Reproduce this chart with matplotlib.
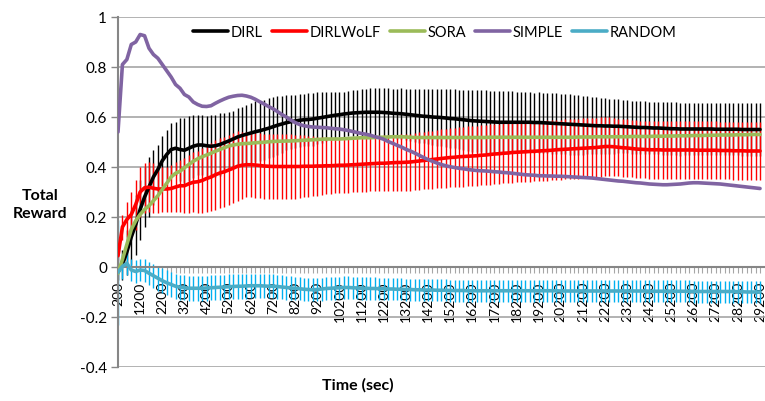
import matplotlib
matplotlib.use("Agg")
import matplotlib.pyplot as plt

plt.rcParams['font.family'] = ['Lato', 'DejaVu Sans']

# categories: time in seconds
times = list(range(200, 29400, 200))

dirl = [-0.02, 0.01, 0.06, 0.12, 0.17, 0.23, 0.28, 0.32, 0.36, 0.39,
        0.425, 0.45, 0.47, 0.475, 0.47, 0.467, 0.475, 0.483, 0.488, 0.488,
        0.485, 0.483, 0.485, 0.49, 0.497, 0.504, 0.512, 0.52, 0.526, 0.531,
        0.536, 0.541, 0.545, 0.55, 0.555, 0.561, 0.567, 0.572, 0.577, 0.581,
        0.584, 0.587, 0.589, 0.59, 0.592, 0.595, 0.598, 0.601, 0.604, 0.607,
        0.609, 0.612, 0.614, 0.616, 0.617, 0.618, 0.619, 0.619, 0.619, 0.619,
        0.618, 0.617, 0.615, 0.614, 0.613, 0.611, 0.609, 0.607, 0.605, 0.603,
        0.602, 0.600, 0.599, 0.598, 0.596, 0.594, 0.593, 0.591, 0.589, 0.587,
        0.585, 0.584, 0.583, 0.582, 0.581, 0.580, 0.579, 0.579, 0.579, 0.579,
        0.579, 0.579, 0.579, 0.579, 0.578, 0.578, 0.577, 0.576, 0.575, 0.574,
        0.573, 0.572, 0.571, 0.570, 0.569, 0.568, 0.567, 0.566, 0.565, 0.565,
        0.564, 0.564, 0.563, 0.563, 0.562, 0.561, 0.560, 0.559, 0.558, 0.558,
        0.557, 0.556, 0.556, 0.555, 0.554, 0.553, 0.553, 0.552, 0.552, 0.552,
        0.552, 0.552, 0.552, 0.552, 0.552, 0.551, 0.551, 0.551, 0.551, 0.551,
        0.551, 0.550, 0.550, 0.550, 0.550, 0.550]
dirl_err = [0.03, 0.06, 0.09, 0.11, 0.12, 0.12, 0.12, 0.12, 0.11, 0.10,
            0.10, 0.10, 0.105, 0.105, 0.125, 0.13, 0.13, 0.125, 0.12, 0.12,
            0.12, 0.125, 0.125, 0.125, 0.12, 0.115, 0.113, 0.115, 0.115, 0.117,
            0.12, 0.122, 0.12, 0.12, 0.12, 0.12, 0.117, 0.114, 0.11, 0.107,
            0.106, 0.105, 0.105, 0.106, 0.106, 0.104, 0.101, 0.098, 0.095, 0.092,
            0.09, 0.09, 0.091, 0.092, 0.093, 0.094, 0.095, 0.096, 0.096, 0.097,
            0.097, 0.098, 0.099, 0.10, 0.102, 0.103, 0.105, 0.106, 0.107, 0.108,
            0.109, 0.111, 0.113, 0.114, 0.115, 0.117, 0.118, 0.119, 0.12, 0.122,
            0.124, 0.124, 0.124, 0.125, 0.125, 0.126, 0.126, 0.125, 0.125, 0.124,
            0.123, 0.122, 0.121, 0.12, 0.12, 0.121, 0.121, 0.121, 0.121, 0.121,
            0.121, 0.121, 0.121, 0.12, 0.119, 0.118, 0.116, 0.115, 0.114, 0.112,
            0.111, 0.11, 0.109, 0.108, 0.107, 0.106, 0.106, 0.106, 0.106, 0.105,
            0.105, 0.105, 0.105, 0.106, 0.106, 0.106, 0.106, 0.106, 0.105, 0.105,
            0.105, 0.105, 0.104, 0.104, 0.104, 0.104, 0.104, 0.104, 0.104, 0.104,
            0.104, 0.105, 0.105, 0.105, 0.105, 0.105]

dirlwolf = [0.045, 0.16, 0.19, 0.21, 0.25, 0.30, 0.317, 0.319, 0.315, 0.312,
            0.312, 0.312, 0.314, 0.32, 0.325, 0.325, 0.333, 0.339, 0.341, 0.346,
            0.354, 0.36, 0.369, 0.376, 0.381, 0.388, 0.395, 0.403, 0.407, 0.409,
            0.409, 0.408, 0.406, 0.404, 0.403, 0.402, 0.402, 0.402, 0.402, 0.402,
            0.402, 0.402, 0.403, 0.403, 0.403, 0.404, 0.404, 0.405, 0.405, 0.406,
            0.407, 0.407, 0.408, 0.409, 0.410, 0.411, 0.412, 0.413, 0.414, 0.415,
            0.415, 0.416, 0.417, 0.418, 0.418, 0.419, 0.420, 0.422, 0.424, 0.426,
            0.428, 0.430, 0.432, 0.434, 0.436, 0.438, 0.439, 0.441, 0.442, 0.443,
            0.444, 0.445, 0.447, 0.448, 0.450, 0.452, 0.453, 0.455, 0.456, 0.458,
            0.459, 0.460, 0.461, 0.462, 0.463, 0.464, 0.465, 0.466, 0.467, 0.469,
            0.470, 0.471, 0.472, 0.473, 0.474, 0.475, 0.476, 0.477, 0.478, 0.480,
            0.482, 0.482, 0.481, 0.479, 0.477, 0.476, 0.474, 0.472, 0.471, 0.470,
            0.469, 0.469, 0.469, 0.468, 0.468, 0.468, 0.468, 0.468, 0.468, 0.468,
            0.468, 0.467, 0.467, 0.467, 0.467, 0.467, 0.466, 0.466, 0.466, 0.465,
            0.465, 0.465, 0.464, 0.464, 0.464, 0.464]
dirlwolf_err = [0.02, 0.05, 0.07, 0.09, 0.10, 0.10, 0.10, 0.10, 0.10, 0.095,
                0.09, 0.09, 0.095, 0.10, 0.105, 0.11, 0.115, 0.12, 0.125, 0.13,
                0.135, 0.135, 0.14, 0.14, 0.14, 0.14, 0.14, 0.14, 0.135, 0.13,
                0.13, 0.13, 0.13, 0.13, 0.13, 0.13, 0.13, 0.13, 0.13, 0.13,
                0.128, 0.126, 0.124, 0.122, 0.12, 0.118, 0.116, 0.114, 0.112, 0.11,
                0.11, 0.11, 0.11, 0.11, 0.11, 0.11, 0.11, 0.11, 0.11, 0.11,
                0.112, 0.112, 0.112, 0.112, 0.113, 0.113, 0.114, 0.114, 0.115, 0.115,
                0.116, 0.116, 0.117, 0.117, 0.118, 0.118, 0.119, 0.119, 0.12, 0.12,
                0.12, 0.12, 0.12, 0.12, 0.12, 0.12, 0.12, 0.12, 0.12, 0.12,
                0.12, 0.12, 0.12, 0.12, 0.12, 0.12, 0.12, 0.12, 0.12, 0.12,
                0.12, 0.12, 0.12, 0.12, 0.12, 0.12, 0.12, 0.12, 0.12, 0.12,
                0.118, 0.117, 0.116, 0.115, 0.115, 0.115, 0.115, 0.115, 0.115, 0.115,
                0.115, 0.115, 0.115, 0.115, 0.115, 0.115, 0.115, 0.115, 0.115, 0.115,
                0.115, 0.115, 0.115, 0.115, 0.115, 0.115, 0.115, 0.115, 0.115, 0.115,
                0.115, 0.115, 0.115, 0.115, 0.115, 0.115]

sora = [-0.025, 0.03, 0.09, 0.15, 0.185, 0.21, 0.23, 0.245, 0.265, 0.285,
        0.31, 0.335, 0.36, 0.375, 0.383, 0.397, 0.41, 0.423, 0.433, 0.441,
        0.448, 0.455, 0.463, 0.47, 0.477, 0.484, 0.488, 0.491, 0.493, 0.494,
        0.495, 0.497, 0.498, 0.499, 0.501, 0.502, 0.503, 0.503, 0.504, 0.504,
        0.505, 0.506, 0.507, 0.508, 0.509, 0.510, 0.511, 0.512, 0.512, 0.512,
        0.512, 0.513, 0.514, 0.515, 0.516, 0.517, 0.517, 0.517, 0.518, 0.519,
        0.519, 0.520, 0.521, 0.521, 0.521, 0.520, 0.519, 0.518, 0.518, 0.518,
        0.518, 0.518, 0.518, 0.518, 0.518, 0.518, 0.518, 0.518, 0.518, 0.518,
        0.518, 0.518, 0.518, 0.518, 0.519, 0.519, 0.519, 0.519, 0.519, 0.519,
        0.519, 0.519, 0.519, 0.519, 0.519, 0.519, 0.519, 0.519, 0.519, 0.519,
        0.519, 0.519, 0.519, 0.519, 0.520, 0.520, 0.520, 0.520, 0.521, 0.521,
        0.521, 0.521, 0.521, 0.521, 0.521, 0.521, 0.522, 0.522, 0.522, 0.522,
        0.522, 0.523, 0.523, 0.523, 0.524, 0.524, 0.524, 0.525, 0.525, 0.525,
        0.526, 0.526, 0.526, 0.527, 0.527, 0.527, 0.528, 0.528, 0.528, 0.528,
        0.529, 0.529, 0.529, 0.530, 0.530, 0.530]

simple = [0.54, 0.81, 0.83, 0.89, 0.90, 0.93, 0.925, 0.875, 0.85, 0.835,
          0.81, 0.785, 0.76, 0.73, 0.715, 0.69, 0.68, 0.66, 0.65, 0.643,
          0.642, 0.645, 0.655, 0.664, 0.672, 0.679, 0.683, 0.686, 0.687, 0.684,
          0.679, 0.671, 0.661, 0.652, 0.642, 0.633, 0.622, 0.610, 0.600, 0.588,
          0.578, 0.570, 0.565, 0.562, 0.560, 0.559, 0.558, 0.557, 0.555, 0.553,
          0.552, 0.549, 0.546, 0.542, 0.538, 0.534, 0.531, 0.527, 0.521, 0.517,
          0.511, 0.502, 0.495, 0.487, 0.480, 0.471, 0.464, 0.456, 0.447, 0.438,
          0.430, 0.423, 0.416, 0.410, 0.405, 0.401, 0.398, 0.395, 0.393, 0.390,
          0.388, 0.386, 0.385, 0.384, 0.383, 0.381, 0.380, 0.378, 0.377, 0.375,
          0.373, 0.371, 0.369, 0.368, 0.367, 0.365, 0.365, 0.364, 0.364, 0.363,
          0.363, 0.362, 0.361, 0.360, 0.359, 0.358, 0.357, 0.356, 0.354, 0.352,
          0.350, 0.348, 0.346, 0.344, 0.343, 0.341, 0.339, 0.337, 0.336, 0.334,
          0.332, 0.331, 0.330, 0.329, 0.329, 0.330, 0.331, 0.332, 0.334, 0.336,
          0.337, 0.337, 0.336, 0.335, 0.334, 0.333, 0.332, 0.330, 0.328, 0.326,
          0.324, 0.322, 0.320, 0.318, 0.316, 0.314]

random_ = [-0.021, 0.002, 0.015, -0.012, -0.018, -0.012, -0.014, -0.025, -0.035, -0.045,
           -0.055, -0.063, -0.070, -0.077, -0.081, -0.083, -0.085, -0.085, -0.085, -0.085,
           -0.084, -0.083, -0.082, -0.081, -0.080, -0.079, -0.078, -0.077, -0.077, -0.076,
           -0.075, -0.075, -0.075, -0.076, -0.077, -0.077, -0.078, -0.080, -0.082, -0.084,
           -0.085, -0.087, -0.089, -0.090, -0.091, -0.090, -0.088, -0.086, -0.085, -0.084,
           -0.083, -0.082, -0.082, -0.083, -0.084, -0.085, -0.085, -0.086, -0.086, -0.087,
           -0.087, -0.088, -0.088, -0.089, -0.089, -0.090, -0.090, -0.091, -0.091, -0.092,
           -0.092, -0.092, -0.093, -0.093, -0.093, -0.094, -0.094, -0.094, -0.094, -0.095,
           -0.095, -0.095, -0.095, -0.095, -0.095, -0.095, -0.095, -0.095, -0.095, -0.095,
           -0.095, -0.095, -0.095, -0.095, -0.095, -0.095, -0.095, -0.095, -0.095, -0.095,
           -0.096, -0.096, -0.096, -0.096, -0.096, -0.096, -0.096, -0.096, -0.096, -0.096,
           -0.096, -0.096, -0.096, -0.096, -0.096, -0.096, -0.096, -0.096, -0.096, -0.096,
           -0.097, -0.097, -0.097, -0.097, -0.097, -0.097, -0.097, -0.097, -0.097, -0.097,
           -0.098, -0.098, -0.098, -0.098, -0.098, -0.098, -0.098, -0.098, -0.098, -0.098,
           -0.099, -0.099, -0.100, -0.100, -0.100, -0.100]
random_err = [0.21, 0.05, 0.045, 0.045, 0.045, 0.045, 0.045, 0.045, 0.048, 0.05,
              0.05, 0.05, 0.05, 0.05, 0.05, 0.05, 0.05, 0.05, 0.05, 0.05,
              0.05, 0.05, 0.05, 0.05, 0.05, 0.05, 0.05, 0.05, 0.05, 0.05,
              0.048, 0.048, 0.048, 0.048, 0.048, 0.048, 0.048, 0.048, 0.048, 0.048,
              0.046, 0.046, 0.046, 0.046, 0.046, 0.046, 0.046, 0.046, 0.046, 0.046,
              0.045, 0.045, 0.045, 0.045, 0.045, 0.045, 0.045, 0.045, 0.045, 0.045,
              0.044, 0.044, 0.044, 0.044, 0.044, 0.044, 0.044, 0.044, 0.044, 0.044,
              0.044, 0.044, 0.044, 0.044, 0.044, 0.044, 0.044, 0.044, 0.044, 0.044,
              0.044, 0.044, 0.044, 0.044, 0.044, 0.044, 0.044, 0.044, 0.044, 0.044,
              0.044, 0.044, 0.044, 0.044, 0.044, 0.044, 0.044, 0.044, 0.044, 0.044,
              0.044, 0.044, 0.044, 0.044, 0.044, 0.044, 0.044, 0.044, 0.044, 0.044,
              0.044, 0.044, 0.044, 0.044, 0.044, 0.044, 0.044, 0.044, 0.044, 0.044,
              0.044, 0.044, 0.044, 0.044, 0.044, 0.044, 0.044, 0.044, 0.044, 0.044,
              0.044, 0.044, 0.044, 0.044, 0.044, 0.044, 0.044, 0.044, 0.044, 0.044,
              0.044, 0.044, 0.044, 0.044, 0.044, 0.044]

x = list(range(len(times)))

fig = plt.figure(figsize=(7.65, 4.02), dpi=100)
ax = fig.add_axes([118 / 765, 34 / 402, 650 / 765, 350 / 402])

# spine position first: moving it resets the tick labels
for s in ['top', 'right']:
    ax.spines[s].set_visible(False)
ax.spines['bottom'].set_position(('data', 0))
ax.spines['bottom'].set_color('#868686')
ax.spines['bottom'].set_linewidth(1.5)
ax.spines['left'].set_color('#868686')
ax.spines['left'].set_linewidth(1.5)

# error bars go under the lines
ax.errorbar(x, dirl, yerr=dirl_err, fmt='none', ecolor='black', elinewidth=1, capsize=0, zorder=2)
ax.errorbar(x, dirlwolf, yerr=dirlwolf_err, fmt='none', ecolor='#FF0000', elinewidth=1, capsize=0, zorder=2)
ax.errorbar(x, random_, yerr=random_err, fmt='none', ecolor='#00B0F0', elinewidth=1, capsize=0, zorder=2)

ax.plot(x, dirl, color='black', lw=2.6, label='DIRL', zorder=4, solid_capstyle='round')
ax.plot(x, dirlwolf, color='#FF0000', lw=2.6, label='DIRLWoLF', zorder=4, solid_capstyle='round')
ax.plot(x, sora, color='#9BBB59', lw=2.6, label='SORA', zorder=4, solid_capstyle='round')
ax.plot(x, simple, color='#8064A2', lw=2.6, label='SIMPLE', zorder=4, solid_capstyle='round')
ax.plot(x, random_, color='#4BACC6', lw=2.6, label='RANDOM', zorder=4, solid_capstyle='round')

ax.set_xlim(0, 146.8)
ax.set_ylim(-0.4, 1.0)

yt = [-0.4, -0.2, 0, 0.2, 0.4, 0.6, 0.8, 1.0]
ax.set_yticks(yt)
ax.set_yticklabels(['-0.4', '-0.2', '0', '0.2', '0.4', '0.6', '0.8', '1'], fontsize=11)
ax.yaxis.grid(True, color='#A6A6A6', lw=1.2)
ax.set_axisbelow(True)

ax.set_xticks(x)
ax.set_xticklabels([str(t) if i % 5 == 0 else '' for i, t in enumerate(times)],
                   rotation=90, fontsize=10)
ax.tick_params(axis='x', length=4, width=0.8, color='#A6A6A6', pad=6)
ax.tick_params(axis='y', length=5, width=1, color='#868686', pad=3)

fig.text(40 / 765, 1 - 205 / 402, 'Total\nReward', fontsize=11.5, fontweight='bold',
         ha='center', va='center', linespacing=1.3)
fig.text(358 / 765, 1 - 385 / 402, 'Time (sec)', fontsize=11.5, fontweight='bold',
         ha='center', va='center')

fig.legend(loc='center', bbox_to_anchor=(435 / 765, 1 - 33 / 402), ncol=5, frameon=False,
           fontsize=10.5, handlelength=2.4, columnspacing=0.6, handletextpad=0.2)

fig.savefig('out.png', dpi=100)
